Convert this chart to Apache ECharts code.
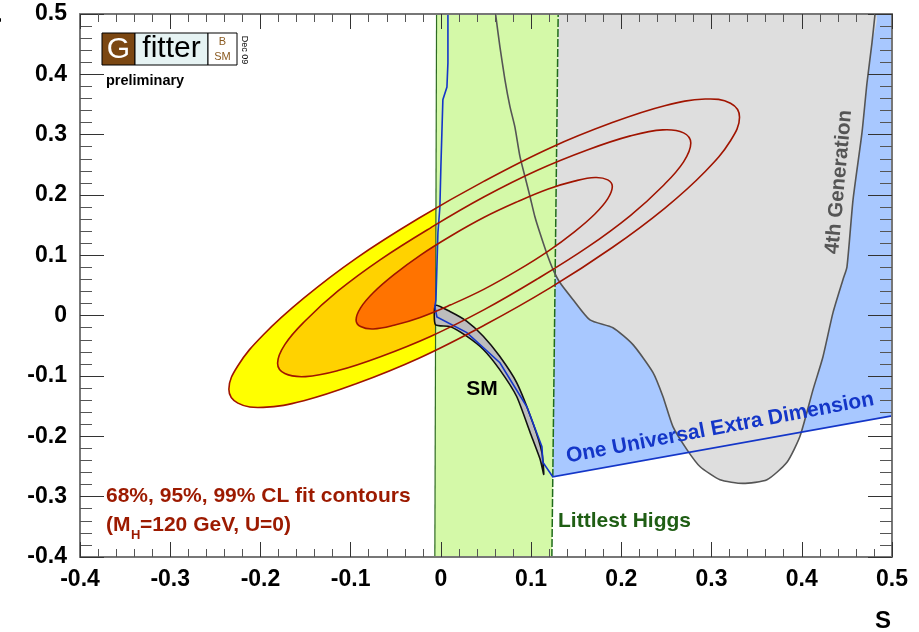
<!DOCTYPE html>
<html>
<head>
<meta charset="utf-8">
<script src="https://cdn.jsdelivr.net/npm/echarts@6/dist/echarts.min.js"></script>
<style>html,body{margin:0;padding:0;background:#fff}#main{width:919px;height:632px}</style>
</head>
<body>
<div id="main"></div>
<script>
// contours of the fit (S, T)
var cl99 = [[0.331,0.329],[0.321,0.352],[0.293,0.359],[0.248,0.348],[0.190,0.320],[0.121,0.278],[0.048,0.223],[-0.025,0.161],[-0.094,0.095],[-0.152,0.029],[-0.197,-0.032],[-0.225,-0.083],[-0.235,-0.122],[-0.225,-0.145],[-0.197,-0.152],[-0.152,-0.141],[-0.094,-0.113],[-0.025,-0.071],[0.048,-0.016],[0.121,0.046],[0.190,0.113],[0.248,0.178],[0.293,0.239],[0.321,0.290]];
var cl95 = [[0.277,0.286],[0.269,0.303],[0.246,0.308],[0.210,0.298],[0.163,0.275],[0.107,0.241],[0.048,0.197],[-0.011,0.146],[-0.067,0.093],[-0.114,0.041],[-0.150,-0.008],[-0.173,-0.048],[-0.181,-0.079],[-0.173,-0.096],[-0.150,-0.101],[-0.114,-0.091],[-0.067,-0.068],[-0.011,-0.034],[0.048,0.010],[0.107,0.061],[0.163,0.114],[0.210,0.166],[0.246,0.215],[0.269,0.255]];
var cl68 = [[0.190,0.214],[0.185,0.225],[0.171,0.229],[0.148,0.223],[0.119,0.210],[0.085,0.189],[0.048,0.163],[0.011,0.132],[-0.023,0.100],[-0.052,0.068],[-0.075,0.038],[-0.089,0.013],[-0.094,-0.007],[-0.089,-0.018],[-0.075,-0.022],[-0.052,-0.016],[-0.023,-0.003],[0.011,0.018],[0.048,0.044],[0.085,0.075],[0.119,0.107],[0.148,0.139],[0.171,0.169],[0.185,0.194]];

// littlest higgs band
var higgsBand = [[-0.0067,-0.4],[0.123,-0.4],[0.130,0.5],[-0.0048,0.5]];
// one universal extra dimension
var uedRegion = [[0.12,-0.268],[0.5,-0.166],[0.5,0.5],[0.12,0.5]];
var uedLine = [[0.0078,0.5],[0.0078,0.419],[0.0067,0.379],[0.0022,0.358],[0.0011,0.303],[0.0,0.247],[-0.0011,0.180],[-0.0033,0.137],[-0.0044,0.081],[-0.0055,0.026],[-0.0067,0.015],[-0.0044,-0.002],[0.0288,-0.028],[0.0654,-0.078],[0.0953,-0.151],[0.112,-0.217],[0.113,-0.243],[0.124,-0.267],[0.5,-0.166]];
// 4th generation
var fourthGen = [[0.0606,0.5],[0.0654,0.446],[0.0710,0.391],[0.0765,0.347],[0.0820,0.313],[0.0876,0.264],[0.0931,0.231],[0.0987,0.198],[0.1042,0.164],[0.1098,0.137],[0.1172,0.104],[0.1245,0.076],[0.1319,0.055],[0.1463,0.027],[0.1652,-0.007],[0.1907,-0.020],[0.2129,-0.048],[0.2350,-0.094],[0.2461,-0.134],[0.2572,-0.184],[0.2727,-0.222],[0.2871,-0.250],[0.3093,-0.272],[0.3348,-0.278],[0.3614,-0.272],[0.3836,-0.243],[0.3980,-0.200],[0.4124,-0.123],[0.4235,-0.068],[0.4346,0.005],[0.4457,0.060],[0.4501,0.081],[0.4568,0.192],[0.4667,0.303],[0.4723,0.386],[0.4778,0.452],[0.4812,0.5]];
// SM band
var smUpper = [[-0.006,0.017],[0.010,0.007],[0.0285,-0.009],[0.047,-0.034],[0.065,-0.067],[0.084,-0.111],[0.102,-0.178],[0.112,-0.227],[0.114,-0.263]];
var smLower = [[-0.006,-0.015],[0.010,-0.018],[0.0285,-0.034],[0.047,-0.056],[0.065,-0.089],[0.084,-0.134],[0.099,-0.194],[0.110,-0.238]];

var axisMin = -0.4, axisMax = 0.5, axisStep = 0.1;

var myChart = echarts.init(document.getElementById('main'));

function shape(name, pts, closed, style, smooth) {
  return {
    type: 'custom', name: name, coordinateSystem: 'cartesian2d', silent: true, clip: true,
    data: pts,
    renderItem: function (params, api) {
      if (params.dataIndex !== 0) return null;
      var p = pts.map(function (d) { return api.coord(d); });
      return { type: closed ? 'polygon' : 'polyline', shape: { points: p, smooth: smooth || 0 }, style: style };
    }
  };
}

var smBand = smUpper.concat(smLower.slice().reverse());
var red = '#a01400';

function axisX(pos) {
  return {
    type: 'value', position: pos, min: axisMin, max: axisMax, interval: axisStep, z: 10,
    axisLine: { show: true, onZero: false, lineStyle: { color: '#777', width: 2 } },
    axisTick: { show: true, inside: true, length: 15, lineStyle: { color: '#333' } },
    minorTick: { show: true, splitNumber: 5, length: 8, lineStyle: { color: '#555' } },
    splitLine: { show: false },
    axisLabel: {
      show: pos === 'bottom', margin: 11, fontSize: 23, fontWeight: 'bold', color: '#000', fontFamily: 'Liberation Sans',
      formatter: function (v) { return String(Math.round(v * 10) / 10); }
    }
  };
}
function axisY(pos) {
  return {
    type: 'value', position: pos, min: axisMin, max: axisMax, interval: axisStep, z: 10,
    axisLine: { show: true, onZero: false, lineStyle: { color: '#777', width: 2 } },
    axisTick: { show: true, inside: true, length: 24, lineStyle: { color: '#333' } },
    minorTick: { show: true, splitNumber: 5, length: 12, lineStyle: { color: '#555' } },
    splitLine: { show: false },
    axisLabel: {
      show: pos === 'left', margin: 13, fontSize: 23, fontWeight: 'bold', color: '#000', fontFamily: 'Liberation Sans',
      formatter: function (v) { return String(Math.round(v * 10) / 10); }
    }
  };
}

var txt = function (x, y, text, o) {
  var st = { text: text, x: 0, y: 0, fontFamily: 'Liberation Sans', fontWeight: 'bold', fontSize: 21, fill: '#000' };
  for (var k in o.style) st[k] = o.style[k];
  return { type: 'text', x: x, y: y, rotation: o.rotation || 0, z: 100, style: st };
};

var option = {
  animation: false,
  grid: { left: 80, right: 27, top: 14, bottom: 75 },
  xAxis: [axisX('bottom'), axisX('top')],
  yAxis: [axisY('left'), axisY('right')],
  series: [
    shape('99%', cl99, true, { fill: '#ffff00' }, 0.4),
    shape('95%', cl95, true, { fill: '#ffd200' }, 0.4),
    shape('68%', cl68, true, { fill: '#ff7300' }, 0.4),
    shape('UED region', uedRegion, true, { fill: '#a8c8ff' }),
    shape('4th Generation', fourthGen, true, { fill: '#dedede' }, 0.2),
    shape('Littlest Higgs', higgsBand, true, { fill: '#d4f9a8' }),
    shape('higgs left', [higgsBand[0], higgsBand[3]], false, { stroke: '#2e6b22', lineWidth: 1.2, fill: null }),
    shape('higgs right', [higgsBand[1], higgsBand[2]], false, { stroke: '#1f6b1a', lineWidth: 1.5, lineDash: [8, 2], fill: null }),
    shape('4th edge', fourthGen, false, { stroke: '#555', lineWidth: 1.6, fill: null }, 0.2),
    shape('SM', smBand, true, { fill: '#bdbdbd', stroke: '#111', lineWidth: 1.6 }, 0.2),
    shape('UED line', uedLine, false, { stroke: '#1436c8', lineWidth: 1.6, fill: null }),
    shape('99% line', cl99, true, { fill: null, stroke: red, lineWidth: 1.6 }, 0.4),
    shape('95% line', cl95, true, { fill: null, stroke: red, lineWidth: 1.6 }, 0.4),
    shape('68% line', cl68, true, { fill: null, stroke: red, lineWidth: 1.6 }, 0.4)
  ],
  graphic: [
    // logo
    { type: 'rect', z: 100, shape: { x: 102, y: 33, width: 33, height: 32 }, style: { fill: '#7b4712', stroke: '#000', lineWidth: 1 } },
    { type: 'rect', z: 100, shape: { x: 135, y: 33, width: 73, height: 32 }, style: { fill: '#e6f3f3', stroke: '#000', lineWidth: 1 } },
    { type: 'rect', z: 100, shape: { x: 208, y: 33, width: 29, height: 32 }, style: { fill: '#fff', stroke: '#000', lineWidth: 1 } },
    txt(118.5, 50, 'G', { style: { fill: '#fff', fontWeight: 'normal', fontSize: 30, align: 'center', verticalAlign: 'middle' } }),
    txt(171.5, 49, 'fitter', { style: { fontWeight: 'normal', fontSize: 30, align: 'center', verticalAlign: 'middle' } }),
    txt(222.5, 42, 'B', { style: { fill: '#8a5a20', fontWeight: 'normal', fontSize: 11, align: 'center', verticalAlign: 'middle' } }),
    txt(222.5, 57, 'SM', { style: { fill: '#8a5a20', fontWeight: 'normal', fontSize: 11, align: 'center', verticalAlign: 'middle' } }),
    txt(244, 50, 'Dec 09', { rotation: -Math.PI / 2, style: { fontWeight: 'normal', fontSize: 9, align: 'center', verticalAlign: 'middle' } }),
    txt(106, 81, 'preliminary', { style: { fontSize: 14.5, verticalAlign: 'middle' } }),
    // labels
    txt(482, 389, 'SM', { style: { fontSize: 21, align: 'center', verticalAlign: 'middle' } }),
    txt(558, 521, 'Littlest Higgs', { style: { fill: '#1f5e14', fontSize: 21, verticalAlign: 'middle' } }),
    txt(720, 428, 'One Universal Extra Dimension', { rotation: 0.186, style: { fill: '#1436c8', fontSize: 21, align: 'center', verticalAlign: 'middle' } }),
    txt(839, 182, '4th Generation', { rotation: 1.48, style: { fill: '#555', fontSize: 20.5, align: 'center', verticalAlign: 'middle' } }),
    txt(106, 496, '68%, 95%, 99% CL fit contours', { style: { fill: '#9c1a00', fontSize: 21, verticalAlign: 'middle' } }),
    txt(106, 525, '(M', { style: { fill: '#9c1a00', fontSize: 21, verticalAlign: 'middle' } }),
    txt(131, 535, 'H', { style: { fill: '#9c1a00', fontSize: 13, verticalAlign: 'middle' } }),
    txt(140, 525, '=120 GeV, U=0)', { style: { fill: '#9c1a00', fontSize: 21, verticalAlign: 'middle' } }),
    // axis titles
    txt(875, 621, 'S', { style: { fontSize: 24, verticalAlign: 'middle' } }),
    txt(-5.5, 20, 'T', { rotation: Math.PI / 2, style: { fontSize: 24, align: 'center', verticalAlign: 'middle' } })
  ]
};

myChart.setOption(option);
</script>
</body>
</html>
